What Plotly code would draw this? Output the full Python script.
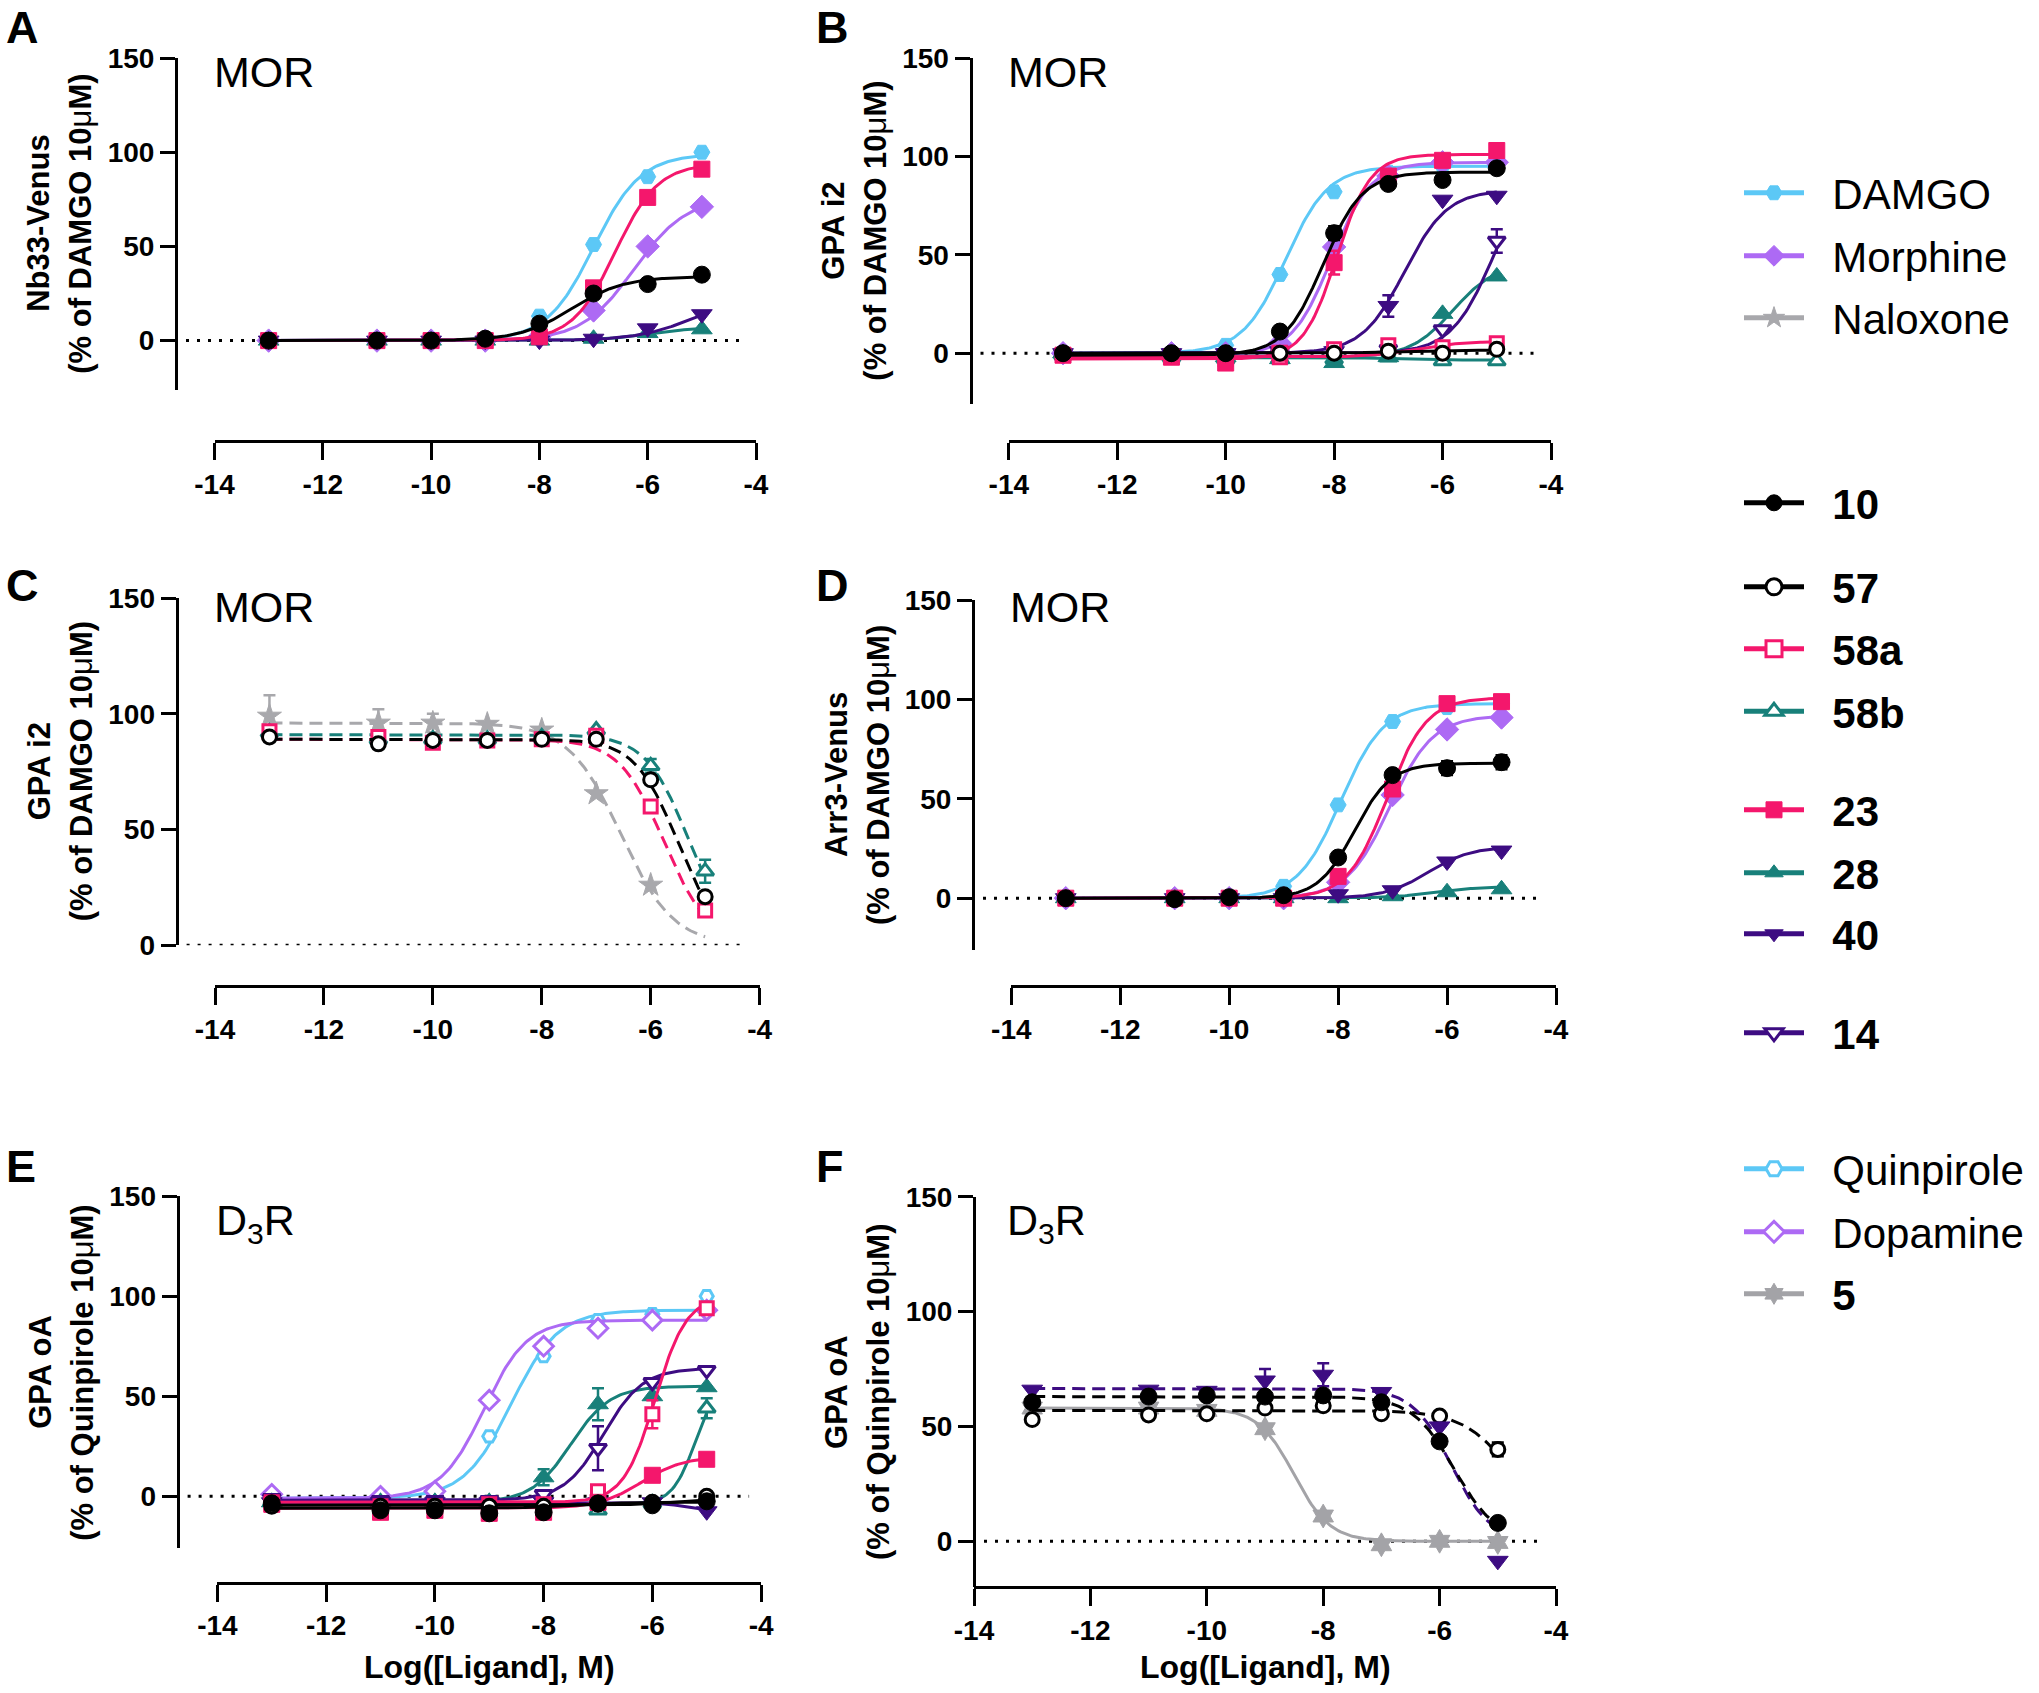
import numpy as np
import plotly.graph_objects as go

W, H = 2039, 1693
FONT = "Liberation Sans, Arial, Helvetica, sans-serif"

# ---------------- data ----------------
LOG_CONC = [-13, -11, -10, -9, -8, -7, -6, -5]
X_TICKVALS = [-14, -12, -10, -8, -6, -4]
X_TICKTEXT = ["-14", "-12", "-10", "-8", "-6", "-4"]
Y_TICKVALS = [0, 50, 100, 150]
Y_TICKTEXT = ["0", "50", "100", "150"]

# Panel A: MOR, Nb33-Venus
A_Y = {
    "DAMGO":    [0, 0, 0, 1, 13, 51, 87, 100],
    "Morphine": [0, 0, 0, 0, 2, 16, 50, 71],
    "28":       [0, 0, 0, 0, 0, 1, 4, 6],
    "40":       [0, 0, 0, 0, 0, 1, 6.5, 14],
    "23":       [0, 0, 0, 0, 2, 28, 76, 91],
    "10":       [0, 0, 0, 1, 9, 25, 30, 35],
}
A_ERR = {"23": [0, 0, 0, 0, 0, 0, 0, 3]}
# fitted curves: (y at low conc, y at high conc, logEC50, Hill slope)
A_FIT = {
    "DAMGO":    (0, 99, -7.0, 1.0),
    "Morphine": (0, 76, -6.25, 0.9),
    "28":       (0, 7, -6.0, 1.0),
    "40":       (0, 25, -5.1, 0.8),
    "23":       (0, 94, -6.6, 1.1),
    "10":       (0, 34, -7.4, 0.9),
}

# Panel B: MOR, GPA i2 (agonist)
B_Y = {
    "DAMGO":    [0, 0, 4, 40, 82, 92, 95, 97],
    "Morphine": [0, 0, 0, 5, 54, 90, 97, 97],
    "58b":      [-1, -2, -3, -3, -3, -2, -4, -4],
    "28":       [0, -1, -2, -3, -5, -2, 20, 39],
    "14":       [0, 0, 0, 0, 1, 2, 12, 57],
    "40":       [0, 0, 0, 1, 1, 24, 78, 80],
    "58a":      [-1, -2, -3, -2, 2, 4, 3, 5],
    "23":       [-1, -2, -5, 0, 46, 90, 98, 103],
    "57":       [0, 0, 0, 0, 0, 1, 0, 2],
    "10":       [0, 0, 0, 11, 61, 86, 88, 94],
}
B_ERR = {
    "10": [0, 0, 0, 0, 3.5, 0, 0, 0],
    "23": [0, 0, 0, 0, 6, 3, 0, 0],
    "40": [0, 0, 0, 0, 0, 5.5, 0, 0],
    "14": [0, 0, 0, 0, 0, 0, 0, 6],
    "Morphine": [0, 0, 0, 0, 3, 0, 0, 0],
}
B_FIT = {
    "DAMGO":    (0, 95, -8.9, 1.1),
    "Morphine": (-1, 97, -8.05, 1.2),
    "58b":      (-2, -3.5, -7.0, 1.0),
    "28":       (-2, 46, -5.8, 1.1),
    "14":       (0, 100, -5.05, 1.1),
    "40":       (0, 83, -6.7, 1.1),
    "58a":      (-2, 6, -6.5, 1.0),
    "23":       (-3, 101, -7.95, 1.4),
    "57":       (0, 1.5, -7.0, 1.0),
    "10":       (-1, 92, -8.2, 1.2),
}

# Panel C: MOR, GPA i2 (antagonist mode)
C_Y = {
    "Naloxone": [99, 96, 96, 95.5, 93, 65.5, 26, None],
    "58b":      [92, 89, 89, 89, 90, 93, 77.5, 32],
    "58a":      [92.5, 90, 87.5, 88.5, 89, 90.5, 60, 15],
    "57":       [90, 87, 88.5, 88.5, 89, 89, 71.5, 21],
}
C_ERR = {
    "Naloxone": [9, 6, 4, 0, 0, 0, 0, 0],
    "58b":      [0, 0, 0, 0, 0, 0, 3, 5],
}
C_FIT = {
    "Naloxone": (96, 0, -6.55, 0.9),
    "58b":      (91, 0, -5.3, 1.1),
    "58a":      (89, 0, -5.75, 1.05),
    "57":       (89, 0, -5.5, 1.1),
}

# Panel D: MOR, Arr3-Venus
D_Y = {
    "DAMGO":    [0, 0, 0, 6, 47, 89, 96, 98],
    "Morphine": [0, 0, 0, 0, 8, 52, 85, 91],
    "28":       [0, 0, 0, 0, 0, 1, 3, 4.5],
    "40":       [0, 0, 0, 0, 2, 4, 18.5, 24],
    "23":       [0, 0, 0, 0, 11, 55, 98, 99],
    "10":       [0, -0.5, 0.5, 1.5, 20.5, 62, 65.5, 68.5],
}
D_ERR = {"10": [0, 0, 0, 0, 0, 0, 3.5, 3.5]}
D_FIT = {
    "DAMGO":    (0, 98, -7.95, 1.1),
    "Morphine": (0, 92, -7.05, 1.1),
    "28":       (0, 6, -6.2, 1.0),
    "40":       (0, 26, -6.35, 1.1),
    "23":       (0, 101, -7.1, 1.2),
    "10":       (0, 68, -7.7, 1.3),
}

# Panel E: D3R, GPA oA (agonist)
E_Y = {
    "Quinpirole": [0, 0, 2.5, 30, 70, 88, 91, 100],
    "Dopamine":   [1, 0, 2.5, 48, 75, 84, 88, 93],
    "58b":        [-3, -3, -3, -3, -3, -7, -3.5, 44],
    "28":         [-3, -3, -3, -3, 9.5, 46, 50, 54.5],
    "14":         [-1, -2, -2, -2, 1, 24, 57, 63],
    "40":         [-3, -3, -3, -3, -3, -3, -3, -7.5],
    "58a":        [-3, -5, -5, -4, -4, 2.5, 41, 94],
    "23":         [-4, -8, -7, -8.5, -8, -3, 10.5, 18.5],
    "57":         [-5, -5, -5, -5, -5, -4, -3, 0],
    "10":         [-3.5, -7, -7, -8.5, -8, -3.5, -4.5, -2.5],
}
E_ERR = {
    "28":  [0, 0, 0, 0, 4, 8, 0, 0],
    "14":  [0, 0, 0, 0, 0, 11, 0, 0],
    "58a": [0, 0, 0, 0, 0, 0, 7, 0],
    "58b": [0, 0, 0, 0, 0, 0, 0, 5],
}
E_FIT = {
    "Quinpirole": (-1, 93, -8.6, 1.0),
    "Dopamine":   (-1, 88, -9.1, 1.1),
    "58b":        (-4, 60, -5.2, 2.0),
    "28":         (-3, 55, -7.5, 1.2),
    "14":         (-2, 64, -6.9, 1.2),
    "40":         (-3, -8, -5.3, 1.5),
    "58a":        (-3, 100, -5.95, 1.5),
    "23":         (-6, 20, -6.2, 1.1),
    "57":         (-4.5, -1, -5.5, 1.0),
    "10":         (-6, -3, -7.5, 1.0),
}

# Panel F: D3R, GPA oA (antagonist mode)
F_Y = {
    "5":  [58, 58, 57, 49, 11, -1.5, 0, -0.5],
    "57": [53, 55, 55.5, 58, 59, 55.5, 54.5, 40],
    "40": [66, 66, 65.5, 70, 72.5, 65, 50, -8.5],
    "10": [60.5, 63, 63.5, 63, 63.5, 60.5, 43.5, 8],
}
F_ERR = {
    "40": [0, 0, 0, 5, 5, 0, 0, 0],
    "57": [0, 0, 0, 0, 0, 0, 0, 3],
}
F_FIT = {
    "5":  (58, 0, -8.5, 1.4),
    "57": (57, 0, -4.7, 1.0),
    "40": (66.5, 0, -5.8, 1.3),
    "10": (63, 0, -5.75, 1.2),
}

LEGEND_NAMES = ["DAMGO", "Morphine", "Naloxone", "10", "57", "58a", "58b",
                "23", "28", "40", "14", "Quinpirole", "Dopamine", "5"]
BOLD_NAMES = {"10", "57", "58a", "58b", "23", "28", "40", "14", "5"}

# ---------------- styles ----------------
COLORS = {
    "DAMGO": "#5CC8F6", "Quinpirole": "#5CC8F6",
    "Morphine": "#AD6AF4", "Dopamine": "#AD6AF4",
    "Naloxone": "#A8A8AC", "5": "#A3A3A7",
    "10": "#000000", "57": "#000000",
    "58a": "#F4176C", "23": "#F4176C",
    "58b": "#18807A", "28": "#18807A",
    "40": "#3D0C82", "14": "#3D0C82",
}
SYMBOLS = {
    "DAMGO": "hexagon2", "Quinpirole": "hexagon2",
    "Morphine": "diamond", "Dopamine": "diamond",
    "Naloxone": "star", "5": "hexagram",
    "10": "circle", "57": "circle",
    "58a": "square", "23": "square",
    "58b": "triangle-up", "28": "triangle-up",
    "40": "triangle-down", "14": "triangle-down",
}
SIZES = {"circle": 17, "square": 16, "triangle-up": 18, "triangle-down": 18,
         "diamond": 18, "hexagon2": 16, "star": 18, "hexagram": 18}
OPEN = {"57", "58a", "58b", "14", "Quinpirole", "Dopamine"}


def marker_style(name, grow=0):
    c = COLORS[name]
    sym = SYMBOLS[name]
    if name in OPEN:
        return dict(symbol=sym, size=SIZES[sym] - 3 + grow, color="white",
                    line=dict(color=c, width=3))
    return dict(symbol=sym, size=SIZES[sym] + grow, color=c, line=dict(color=c, width=1))


def fit_curve(params, xs):
    lo, hi, ec, h = params
    xs = np.asarray(xs, dtype=float)
    return lo + (hi - lo) / (1.0 + 10.0 ** (h * (ec - xs)))


YT2_DAMGO = "(% of DAMGO 10<span style='font-weight:normal'>μ</span>M)"
YT2_QUIN = "(% of Quinpirole 10<span style='font-weight:normal'>μ</span>M)"

# panel geometry (pixels): x-domain, y pixel of 150 and of 0, y-min, y-axis x, x-axis y
PANELS = [
    dict(Y=A_Y, ERR=A_ERR, FIT=A_FIT, dashed=set(), xd=(214.5, 756), y150=58.0, y0=340.6,
         ymin=-26, yax=176, xax=441.1, letter=("A", 4, 0), receptor=("MOR", 72),
         ytitle=("Nb33-Venus", YT2_DAMGO), xtitle=None),
    dict(Y=B_Y, ERR=B_ERR, FIT=B_FIT, dashed=set(), xd=(1008.8, 1551), y150=58.0, y0=353.2,
         ymin=-26, yax=970.5, xax=441.1, letter=("B", 814, 0), receptor=("MOR", 72),
         ytitle=("GPA i2", YT2_DAMGO), xtitle=None),
    dict(Y=C_Y, ERR=C_ERR, FIT=C_FIT, dashed=set(C_Y.keys()), xd=(215, 759.6), y150=598.0, y0=945.3,
         ymin=0, yax=176.6, xax=986.1, letter=("C", 4, 558), receptor=("MOR", 607),
         ytitle=("GPA i2", YT2_DAMGO), xtitle=None),
    dict(Y=D_Y, ERR=D_ERR, FIT=D_FIT, dashed=set(), xd=(1011.3, 1556), y150=600.4, y0=898.2,
         ymin=-26, yax=973, xax=986.1, letter=("D", 814, 558), receptor=("MOR", 607),
         ytitle=("Arr3-Venus", YT2_DAMGO), xtitle=None),
    dict(Y=E_Y, ERR=E_ERR, FIT=E_FIT, dashed=set(), xd=(217.4, 761.1), y150=1196.1, y0=1496.3,
         ymin=-26, yax=177.6, xax=1582.8, letter=("E", 4, 1139), receptor=("D<sub>3</sub>R", 1223),
         ytitle=("GPA oA", YT2_QUIN), xtitle="Log([Ligand], M)"),
    dict(Y=F_Y, ERR=F_ERR, FIT=F_FIT, dashed={"57", "40", "10"}, xd=(974, 1556), y150=1196.7, y0=1541.3,
         ymin=-20, yax=974, xax=None, letter=("F", 814, 1139), receptor=("D<sub>3</sub>R", 1223),
         ytitle=("GPA oA", YT2_QUIN), xtitle="Log([Ligand], M)"),
]
LEGEND_Y = [193, 256, 318, 503, 587, 649, 711.5, 810, 873, 934, 1033, 1169, 1232, 1294]
LEGEND_X = 1739

fig = go.Figure()
layout = dict(
    width=W, height=H, paper_bgcolor="white", plot_bgcolor="rgba(0,0,0,0)",
    margin=dict(l=0, r=0, t=0, b=0, pad=0, autoexpand=False),
    font=dict(family=FONT, color="black"),
    annotations=[], shapes=[],
)

XGRID = np.linspace(-13, -5, 241)
TICKFONT = dict(family=FONT, size=28, color="black", weight="bold")

for i, p in enumerate(PANELS):
    n = "" if i == 0 else str(i + 1)
    xa_name, ya_name = "xaxis" + n, "yaxis" + n
    xref, yref = "x" + n, "y" + n
    per_unit = (p["y0"] - p["y150"]) / 150.0
    ybot = p["y0"] - p["ymin"] * per_unit
    xax_px = p["xax"] if p["xax"] is not None else ybot

    layout[xa_name] = dict(
        domain=[p["xd"][0] / W, p["xd"][1] / W], range=[-14, -4],
        anchor="free", position=1 - xax_px / H,
        tickmode="array", tickvals=X_TICKVALS, ticktext=X_TICKTEXT,
        ticks="outside", ticklen=17, tickwidth=3, tickcolor="black",
        showline=True, linewidth=3, linecolor="black",
        showgrid=False, zeroline=False, fixedrange=True, tickfont=TICKFONT,
    )
    layout[ya_name] = dict(
        domain=[1 - ybot / H, 1 - p["y150"] / H], range=[p["ymin"], 150],
        anchor="free", position=p["yax"] / W,
        tickmode="array", tickvals=Y_TICKVALS, ticktext=Y_TICKTEXT,
        ticks="outside", ticklen=15, tickwidth=3, tickcolor="black",
        showline=True, linewidth=3, linecolor="black",
        showgrid=False, zeroline=False, fixedrange=True, tickfont=TICKFONT,
    )

    # dotted baseline at 0
    layout["shapes"].append(dict(
        type="line", xref="paper", yref=yref,
        x0=(p["yax"] + 10) / W, x1=(p["xd"][1] - 12) / W, y0=0, y1=0,
        line=dict(color="black", width=3, dash="3px,8px"), layer="below"))

    for name, yvals in p["Y"].items():
        c = COLORS[name]
        dash = "13px,7px" if name in p["dashed"] else "solid"
        fig.add_trace(go.Scatter(
            x=XGRID, y=fit_curve(p["FIT"][name], XGRID), mode="lines",
            line=dict(color=c, width=3, dash=dash),
            xaxis=xref, yaxis=yref, showlegend=False, hoverinfo="skip"))
        err = p["ERR"].get(name)
        ey = dict(type="data", array=err, visible=True, color=c, thickness=2.5, width=6) if err else None
        fig.add_trace(go.Scatter(
            x=LOG_CONC, y=yvals, mode="markers", marker=marker_style(name),
            error_y=ey, xaxis=xref, yaxis=yref, showlegend=False,
            cliponaxis=False, name=name))

    # y-axis titles (two lines)
    ymid = 1 - ((p["y150"] + ybot) / 2) / H
    for txt, off, sz in ((p["ytitle"][0], 137, 31), (p["ytitle"][1], 95, 31)):
        layout["annotations"].append(dict(
            text=txt, xref="paper", yref="paper", x=(p["yax"] - off) / W, y=ymid,
            xanchor="center", yanchor="middle", textangle=-90, showarrow=False,
            font=dict(family=FONT, size=sz, color="black", weight="bold")))
    if p["xtitle"]:
        layout["annotations"].append(dict(
            text=p["xtitle"], xref="paper", yref="paper",
            x=((p["xd"][0] + p["xd"][1]) / 2) / W, y=1 - 1667 / H,
            xanchor="center", yanchor="middle", showarrow=False,
            font=dict(family=FONT, size=32, color="black", weight="bold")))
    # receptor label
    rec_txt, rec_y = p["receptor"]
    rec_x = p["xd"][0] - 3 if i != 5 else 1005
    layout["annotations"].append(dict(
        text=rec_txt, xref="paper", yref="paper", x=rec_x / W,
        y=1 - rec_y / H, xanchor="left", yanchor="middle", showarrow=False,
        font=dict(family=FONT, size=43, color="black")))
    # panel letter
    let, lx, ly = p["letter"]
    layout["annotations"].append(dict(
        text=let, xref="paper", yref="paper", x=lx / W, y=1 - ly / H,
        xanchor="left", yanchor="top", showarrow=False,
        font=dict(family=FONT, size=45, color="black", weight="bold")))

# legend: one legend box per entry, placed like the reference key
for k, name in enumerate(LEGEND_NAMES):
    lid = "legend" if k == 0 else "legend%d" % (k + 1)
    label = ("<b>%s</b>" % name) if name in BOLD_NAMES else name
    fig.add_trace(go.Scatter(
        x=[None], y=[None], mode="lines+markers", name="\u00a0\u00a0" + label,
        line=dict(color=COLORS[name], width=5), marker=marker_style(name, grow=4),
        legend=lid, showlegend=True, xaxis="x", yaxis="y", hoverinfo="skip"))
    layout[lid] = dict(
        x=LEGEND_X / W, xanchor="left", y=1 - LEGEND_Y[k] / H, yanchor="middle",
        bgcolor="rgba(0,0,0,0)", borderwidth=0, itemwidth=60,
        font=dict(family=FONT, size=42, color="black"), tracegroupgap=0)

fig.update_layout(**layout)
fig.write_html("out.html", include_plotlyjs=True, config={"displayModeBar": False},
               post_script="document.body.style.margin='0px';document.body.style.overflow='hidden';")
